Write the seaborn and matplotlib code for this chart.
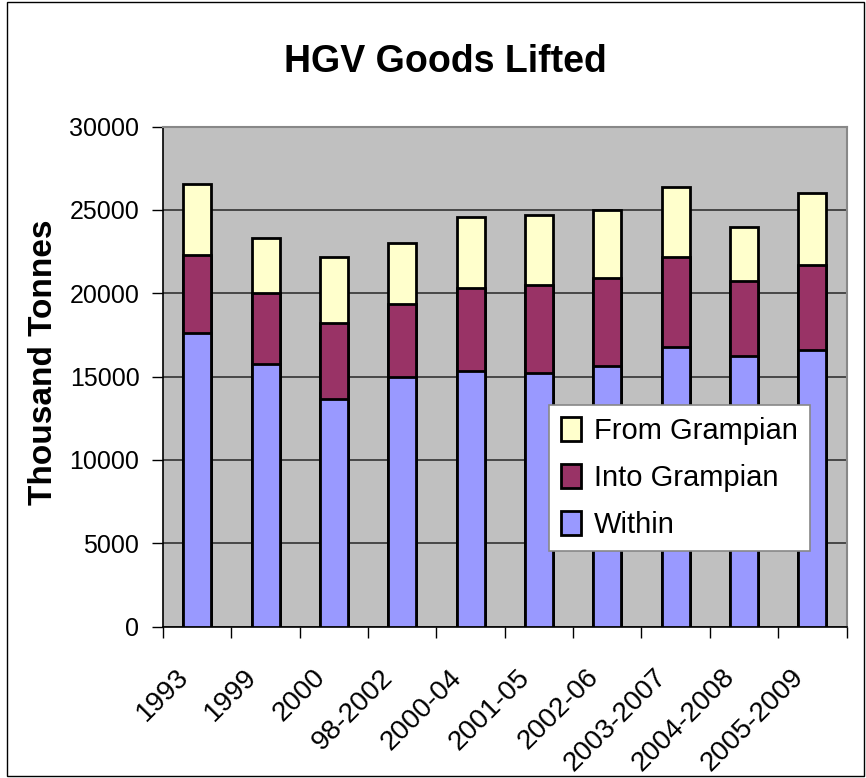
import matplotlib
matplotlib.use("Agg")
import matplotlib.pyplot as plt
import matplotlib.patches as mpatches
import matplotlib.transforms as mtransforms
import seaborn as sns
import pandas as pd
import numpy as np

categories = ["1993", "1999", "2000", "98-2002", "2000-04", "2001-05",
              "2002-06", "2003-2007", "2004-2008", "2005-2009"]
within = [17630, 15780, 13660, 14960, 15360, 15220, 15660, 16760, 16220, 16620]
into_grampian = [4660, 4230, 4550, 4390, 4950, 5250, 5250, 5410, 4510, 5090]
from_grampian = [4260, 3290, 3960, 3650, 4250, 4230, 4070, 4230, 3250, 4290]

sns.set_style("white")
plt.rcParams["font.family"] = ["Liberation Sans", "DejaVu Sans"]
plt.rcParams.update({"text.color": "black", "axes.labelcolor": "black",
                     "xtick.color": "black", "ytick.color": "black"})

df = pd.DataFrame({"period": categories, "within": within,
                   "into": into_grampian, "from": from_grampian})
df["into_top"] = df["within"] + df["into"]
df["total"] = df["into_top"] + df["from"]

c_within = "#9999FF"
c_into = "#993366"
c_from = "#FFFFCC"

fig = plt.figure(figsize=(8.66, 7.78), dpi=100)
ax = fig.add_axes([163 / 866, 1 - 626.5 / 778, (846.5 - 163) / 866, (626.5 - 126.5) / 778])
ax.set_facecolor("#C0C0C0")

# stacked bars: draw the cumulative tops, tallest first
for col, colr in [("total", c_from), ("into_top", c_into), ("within", c_within)]:
    sns.barplot(data=df, x="period", y=col, color=colr, width=0.41, saturation=1,
                edgecolor="black", linewidth=2, ax=ax, zorder=3)

ax.set_ylim(0, 30000)
ax.set_xlim(-0.5, len(categories) - 0.5)
ax.set_yticks(np.arange(0, 30001, 5000))
ax.yaxis.grid(True, color="#333333", linewidth=1.2, zorder=0)
ax.set_axisbelow(True)

ax.tick_params(axis="y", labelsize=18, length=8, width=1, direction="out",
               left=True, pad=9)
ax.set_xticks(range(len(categories)))
ax.set_xticklabels(categories, rotation=45, ha="right", rotation_mode="anchor",
                   fontsize=20)
ax.tick_params(axis="x", which="major", length=0, pad=20)
ax.set_xticks(np.arange(-0.5, len(categories)), minor=True)
ax.tick_params(axis="x", which="minor", length=8, width=1, direction="out",
               bottom=True)
shift = mtransforms.ScaledTranslation(-22 / 100, -10 / 100, fig.dpi_scale_trans)
for lab in ax.get_xticklabels():
    lab.set_transform(lab.get_transform() + shift)

for side in ["left", "bottom"]:
    ax.spines[side].set_color("black")
    ax.spines[side].set_linewidth(1.2)
for side in ["top", "right"]:
    ax.spines[side].set_color("#888888")
    ax.spines[side].set_linewidth(1.5)

ax.set_xlabel("")
ax.set_ylabel("Thousand Tonnes", fontsize=24, fontweight="bold")
ax.yaxis.set_label_coords((59 - 163) / 683.5, (626.5 - 362) / 500)
fig.text(445 / 866, 1 - 62 / 778, "HGV Goods Lifted", fontsize=27,
         fontweight="bold", ha="center", va="center")

handles = [mpatches.Patch(facecolor=c_from, edgecolor="black", linewidth=2, label="From Grampian"),
           mpatches.Patch(facecolor=c_into, edgecolor="black", linewidth=2, label="Into Grampian"),
           mpatches.Patch(facecolor=c_within, edgecolor="black", linewidth=2, label="Within")]
leg = ax.legend(handles=handles, loc="upper left",
                bbox_to_anchor=((549 - 163) / 683.5, (626.5 - 405) / 500),
                fontsize=21, frameon=True, fancybox=False, framealpha=1,
                edgecolor="#888888", handlelength=0.7, handleheight=0.9,
                handletextpad=0.45, labelspacing=0.65, borderpad=0.4,
                borderaxespad=0)
leg.get_frame().set_linewidth(1.2)

fig.patches.append(mpatches.Rectangle((0.008, 0.002), 0.99, 0.996, transform=fig.transFigure,
                                      fill=False, edgecolor="black", linewidth=1))

fig.savefig("out.png", dpi=100)
